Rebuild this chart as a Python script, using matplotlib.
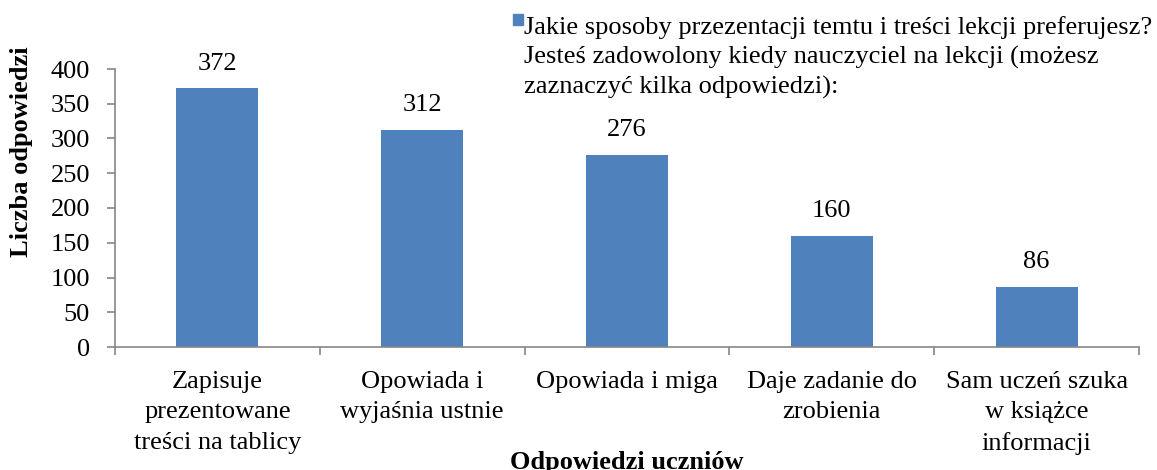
import matplotlib.pyplot as plt
from matplotlib.patches import Rectangle

# Survey answers and counts
categories = [
    "Zapisuje\nprezentowane\ntreści na tablicy",
    "Opowiada i\nwyjaśnia ustnie",
    "Opowiada i miga",
    "Daje zadanie do\nzrobienia",
    "Sam uczeń szuka\nw książce\ninformacji",
]
counts = [372, 312, 276, 160, 86]
yticks = [0, 50, 100, 150, 200, 250, 300, 350, 400]
series_label = ("Jakie sposoby przezentacji temtu i treści lekcji preferujesz?\n"
                "Jesteś zadowolony kiedy nauczyciel na lekcji (możesz\n"
                "zaznaczyć kilka odpowiedzi):")

plt.rcParams['font.family'] = ['Liberation Serif', 'DejaVu Serif']
fs = 19
bar_color = "#4F81BD"
axis_color = "#868686"

fig = plt.figure(figsize=(11.57, 4.70), dpi=100)
ax = fig.add_axes([115 / 1157, 1 - 347 / 470, (1139 - 115) / 1157, (347 - 69) / 470])

x = list(range(len(categories)))
bars = ax.bar(x, counts, width=0.4, color=bar_color)
ax.bar_label(bars, labels=[str(c) for c in counts], padding=10, fontsize=fs)

ax.set_xlim(-0.5, len(categories) - 0.5)
ax.set_ylim(0, 400)
ax.set_yticks(yticks)
ax.tick_params(axis='y', labelsize=fs, length=6, width=1.2, color=axis_color, pad=12)

# category labels at centres, tick marks at category boundaries
ax.set_xticks(x)
ax.set_xticklabels(categories, fontsize=fs, linespacing=1.5)
ax.set_xticks([i - 0.5 for i in range(len(categories) + 1)], minor=True)
ax.tick_params(axis='x', which='major', length=0, pad=17)
ax.tick_params(axis='x', which='minor', length=6, width=1.2, color=axis_color)

for side in ['top', 'right']:
    ax.spines[side].set_visible(False)
for side in ['left', 'bottom']:
    ax.spines[side].set_color(axis_color)
    ax.spines[side].set_linewidth(1.2)

fig.text(22 / 1157, 1 - 152 / 470, "Liczba odpowiedzi", rotation=90, fontsize=fs,
         fontweight='bold', ha='center', va='center')
fig.text(627 / 1157, 0.002, "Odpowiedzi uczniów", fontsize=fs, fontweight='bold',
         ha='center', va='baseline')

# legend: square marker next to the first line of the label
fig.patches.append(Rectangle((513 / 1157, 1 - 25 / 470), 10 / 1157, 11 / 470,
                             transform=fig.transFigure, color=bar_color))
fig.text(524 / 1157, 1 - 16 / 470, series_label, fontsize=fs, ha='left', va='top',
         linespacing=1.4)

plt.savefig("out.png", dpi=100)
